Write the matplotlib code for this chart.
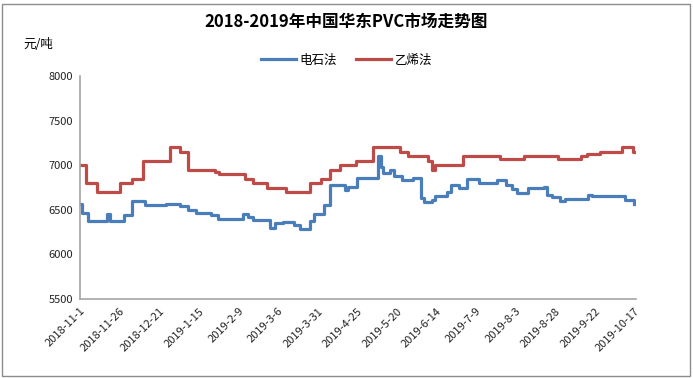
import matplotlib
matplotlib.use("Agg")
import matplotlib.pyplot as plt
import matplotlib.dates as mdates
from matplotlib.patches import Rectangle
import pandas as pd

plt.rcParams['font.family'] = ['Noto Sans CJK SC', 'DejaVu Sans']

title = "2018-2019年中国华东PVC市场走势图"
unit_label = "元/吨"
series_names = ["电石法", "乙烯法"]

# 电石法 (calcium carbide process) – change points
carbide_dates = ["2018-11-01", "2018-11-02", "2018-11-06", "2018-11-18", "2018-11-20",
                 "2018-11-29", "2018-12-04", "2018-12-12", "2018-12-25", "2019-01-03",
                 "2019-01-08", "2019-01-13", "2019-01-23", "2019-01-27", "2019-02-12",
                 "2019-02-15", "2019-02-18", "2019-03-01", "2019-03-04", "2019-03-09",
                 "2019-03-16", "2019-03-20", "2019-03-26", "2019-03-29", "2019-04-04",
                 "2019-04-08", "2019-04-17", "2019-04-19", "2019-04-25", "2019-05-08",
                 "2019-05-10", "2019-05-11", "2019-05-16", "2019-05-18", "2019-05-23",
                 "2019-05-30", "2019-06-04", "2019-06-06", "2019-06-11", "2019-06-13",
                 "2019-06-21", "2019-06-23", "2019-06-28", "2019-07-03", "2019-07-11",
                 "2019-07-22", "2019-07-28", "2019-08-01", "2019-08-04", "2019-08-11",
                 "2019-08-21", "2019-08-23", "2019-08-26", "2019-08-31", "2019-09-03",
                 "2019-09-18", "2019-09-20", "2019-10-11", "2019-10-17"]
carbide_values = [6570, 6460, 6380, 6450, 6380,
                  6440, 6600, 6550, 6570, 6540,
                  6500, 6460, 6440, 6400, 6450,
                  6420, 6390, 6300, 6350, 6360,
                  6330, 6280, 6370, 6450, 6550,
                  6780, 6720, 6760, 6860, 7100,
                  6980, 6910, 6950, 6880, 6830,
                  6860, 6630, 6590, 6610, 6650,
                  6700, 6780, 6750, 6850, 6800,
                  6830, 6780, 6730, 6690, 6740,
                  6760, 6670, 6640, 6600, 6620,
                  6670, 6650, 6610, 6570]

# 乙烯法 (ethylene process) – change points
ethylene_dates = ["2018-11-01", "2018-11-05", "2018-11-12", "2018-11-26", "2018-12-04",
                  "2018-12-11", "2018-12-28", "2019-01-03", "2019-01-08", "2019-01-25",
                  "2019-01-28", "2019-02-13", "2019-02-18", "2019-02-27", "2019-03-11",
                  "2019-03-26", "2019-04-02", "2019-04-08", "2019-04-14", "2019-04-24",
                  "2019-05-05", "2019-05-22", "2019-05-27", "2019-06-09", "2019-06-11",
                  "2019-06-13", "2019-07-01", "2019-07-24", "2019-08-08", "2019-08-30",
                  "2019-09-13", "2019-09-17", "2019-09-25", "2019-10-09", "2019-10-16",
                  "2019-10-17"]
ethylene_values = [7000, 6800, 6700, 6800, 6850,
                   7050, 7200, 7150, 6950, 6925,
                   6900, 6850, 6800, 6750, 6700,
                   6800, 6850, 6950, 7000, 7050,
                   7200, 7150, 7100, 7050, 6950,
                   7000, 7100, 7075, 7100, 7075,
                   7100, 7125, 7150, 7200, 7150,
                   7150]

tick_labels = ["2018-11-1", "2018-11-26", "2018-12-21", "2019-1-15", "2019-2-9",
               "2019-3-6", "2019-3-31", "2019-4-25", "2019-5-20", "2019-6-14",
               "2019-7-9", "2019-8-3", "2019-8-28", "2019-9-22", "2019-10-17"]
y_ticks = [5500, 6000, 6500, 7000, 7500, 8000]

blue = "#4A7EBB"
red = "#BE4B48"

fig = plt.figure(figsize=(6.93, 3.78), dpi=100)
ax = fig.add_axes([80/693, 1-299/378, 556/693, 223/378])

ax.plot(pd.to_datetime(carbide_dates), carbide_values, drawstyle='steps-post',
        color=blue, lw=2.3, label=series_names[0], solid_joinstyle='round')
ax.plot(pd.to_datetime(ethylene_dates), ethylene_values, drawstyle='steps-post',
        color=red, lw=2.3, label=series_names[1], solid_joinstyle='round')

ax.set_ylim(5500, 8000)
ax.set_yticks(y_ticks)
ax.set_yticklabels([str(v) for v in y_ticks], fontsize=8)
ax.set_xlim(pd.Timestamp("2018-11-01"), pd.Timestamp("2019-10-18"))
ax.set_xticks(pd.to_datetime(tick_labels))
ax.set_xticklabels(tick_labels, rotation=45, ha='right', rotation_mode='anchor', fontsize=8)
ax.tick_params(axis='both', length=0, pad=5, colors='#222222')

for s in ['top', 'right']:
    ax.spines[s].set_visible(False)
for s in ['left', 'bottom']:
    ax.spines[s].set_color('#A6A6A6')
    ax.spines[s].set_linewidth(1.2)

fig.text(0.5, 1-22/378, title, ha='center', va='center', fontsize=12, fontweight='bold')
fig.text(38/693, 1-45/378, unit_label, ha='center', va='center', fontsize=9)
fig.legend(loc='center', bbox_to_anchor=(0.5, 1-60/378), ncol=2, frameon=False,
           fontsize=9, handlelength=2.8, columnspacing=1.5, handletextpad=0.3)

fig.patches.append(Rectangle((2/693, 2/378), 688/693, 372/378, transform=fig.transFigure,
                             fill=False, edgecolor='#8C8C8C', lw=1.0))

fig.savefig("out.png", dpi=100)
